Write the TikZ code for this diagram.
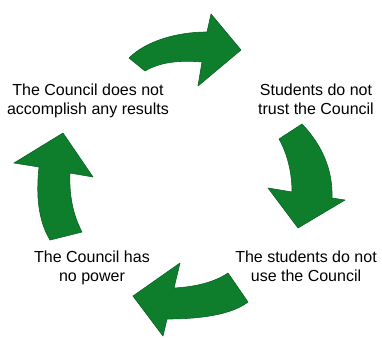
\documentclass[tikz,border=0pt]{standalone}
\usepackage{fontspec}
\setmainfont{Liberation Sans}
\definecolor{arrowgreen}{RGB}{14,125,44}
\definecolor{arrowedge}{RGB}{10,100,35}
\begin{document}
\begin{tikzpicture}[x=1pt,y=-1pt,
  cyclearrow/.style={fill=arrowgreen,draw=arrowedge,line width=0.6pt,line join=round},
  label/.style={align=center,inner sep=0pt,anchor=base,font=\fontsize{16}{19}\selectfont}]
\useasboundingbox (0,0) rectangle (382,337);

% captions of the four stages (anchored at the baseline of the last line)
\node[label] (t1) at (88,114) {The Council does not\\accomplish any results};
\node[label] (t2) at (316,114) {Students do not\\trust the Council};
\node[label] (t3) at (306,281) {The students do not\\use the Council};
\node[label] (t4) at (92,281) {The Council has\\no power};

% top arrow, pointing right
\path[cyclearrow] (129,58) .. controls (145,42) and (175,32) .. (207,32)
  -- (211,14) -- (241,50) -- (198,86) -- (202,62)
  .. controls (180,60) and (160,62) .. (145,71) -- cycle;

% right arrow, pointing down
\path[cyclearrow] (302,124) .. controls (322,145) and (333,170) .. (332,198)
  -- (345,200) -- (298,228) -- (268,188) -- (292,192)
  .. controls (292,172) and (287,153) .. (279,139) -- cycle;

% bottom arrow, pointing left
\path[cyclearrow] (248,302) .. controls (235,312) and (210,319) .. (167,319)
  -- (163,336) -- (133,296) -- (180,263) -- (174,288)
  .. controls (195,287) and (215,282) .. (228,273) -- cycle;

% left arrow, pointing up
\path[cyclearrow] (50,240) .. controls (38,220) and (36,195) .. (39,167)
  -- (14,163) -- (63,133) -- (93,177) -- (70,173)
  .. controls (69,195) and (73,215) .. (82,232) -- cycle;
\end{tikzpicture}
\end{document}
